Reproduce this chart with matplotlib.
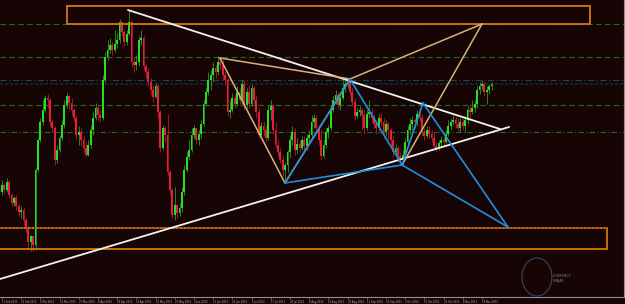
import matplotlib
matplotlib.use("Agg")
import matplotlib.pyplot as plt
from matplotlib.patches import Rectangle, Ellipse
import numpy as np

BG = "#170506"

open0 = 144.8
close = [145.5,145.0,145.8,144.5,143.7,144.2,143.4,142.8,143.0,142.0,
         141.2,139.8,140.4,139.5,147.0,150.0,151.8,153.0,154.2,154.0,
         151.8,151.2,148.0,149.0,150.2,151.5,153.5,154.4,153.7,153.0,
         152.2,150.5,150.8,150.0,149.2,148.5,149.5,151.0,152.2,153.2,
         152.5,152.2,156.0,158.3,159.0,159.5,159.0,159.6,160.0,161.8,
         160.8,159.8,160.6,161.8,157.8,157.5,157.8,160.0,160.2,157.4,
         156.8,155.8,155.0,154.3,155.4,152.8,149.2,151.2,150.5,146.8,
         145.0,142.5,143.5,142.7,143.2,144.8,147.0,148.3,149.0,150.5,
         151.2,150.0,150.6,151.6,153.6,154.8,156.0,156.5,157.2,156.8,
         157.8,157.5,156.5,156.0,152.8,153.0,154.2,153.6,154.8,154.0,
         155.6,153.5,154.8,153.6,155.2,154.0,152.8,150.5,151.4,151.0,
         150.2,153.0,153.4,151.0,149.5,148.8,148.0,147.0,147.5,148.8,
         150.0,150.8,149.0,149.6,149.2,150.0,149.4,150.2,150.5,151.8,
         152.2,151.2,150.0,148.4,149.5,150.8,151.2,153.0,154.0,154.5,
         153.5,154.2,155.2,155.6,155.8,154.8,153.8,152.4,152.8,153.0,
         152.5,151.2,152.6,152.8,152.2,151.6,151.2,152.2,151.8,150.8,
         151.6,151.0,150.0,148.8,149.2,148.4,148.0,148.5,149.8,151.0,
         151.6,152.0,151.8,152.6,152.2,150.8,150.4,151.0,150.6,150.2,
         149.4,149.2,149.7,150.0,149.8,150.6,151.4,151.8,152.0,151.6,
         151.2,151.8,151.4,152.0,153.0,152.8,153.2,153.6,155.0,155.4,
         155.6,154.8,155.0,155.4,155.6]
high = [146.0,145.7,146.2,146.0,144.7,144.4,144.5,143.6,143.4,143.2,
        142.2,141.4,140.5,140.4,147.2,150.2,152.2,154.0,154.5,154.6,
        154.2,152.0,151.4,149.5,150.5,152.0,154.0,154.7,154.5,154.2,
        153.2,152.5,151.4,151.2,150.4,149.8,150.0,151.5,152.8,153.7,
        153.6,153.0,156.5,158.8,160.0,160.2,159.8,161.0,160.7,162.1,
        161.8,161.0,161.0,163.0,162.0,158.2,158.5,160.4,161.0,160.4,
        157.6,157.2,156.2,155.5,155.7,155.6,153.0,151.5,151.4,152.6,
        147.0,145.2,145.3,143.5,143.7,145.3,147.5,148.8,150.0,151.2,
        151.5,151.2,151.0,152.0,154.0,155.2,156.8,157.0,157.8,157.5,
        158.4,158.2,158.0,156.8,156.2,154.0,154.7,154.6,155.4,155.2,
        156.0,156.0,155.2,155.5,155.6,155.4,154.5,153.2,151.8,151.8,
        151.5,153.5,154.0,153.6,151.8,150.0,149.2,148.4,147.8,149.0,
        150.5,151.4,151.2,150.2,150.0,150.4,150.4,150.6,151.0,152.5,
        152.6,152.5,151.5,151.0,150.0,151.2,151.5,153.5,154.4,155.0,
        154.8,154.6,156.0,156.0,156.2,156.3,155.2,154.2,153.2,153.4,
        153.2,153.0,153.0,154.0,153.2,152.6,152.0,152.6,152.7,152.2,
        152.0,151.8,151.2,150.4,149.6,149.4,148.8,149.0,150.2,151.4,
        152.2,152.4,152.2,153.0,153.2,152.6,151.2,151.4,151.4,151.0,
        150.8,149.8,150.0,150.4,150.4,151.0,152.0,152.2,152.5,152.4,
        152.2,152.2,152.2,152.4,153.4,153.6,154.0,154.0,155.4,155.8,
        156.0,155.8,155.4,155.6,155.8]
low = [144.5,144.7,144.8,144.2,143.4,143.4,143.0,142.4,142.2,141.5,
       140.8,139.0,138.9,138.9,139.0,146.8,149.8,151.5,152.8,153.2,
       151.4,150.8,147.5,147.7,148.8,150.0,151.2,153.2,153.0,152.5,
       151.8,150.0,149.5,149.4,148.8,148.3,148.4,149.2,150.5,152.0,
       152.0,151.8,152.0,155.8,158.0,158.7,158.5,158.8,159.2,159.7,
       160.4,159.4,159.5,160.5,157.3,156.8,157.0,157.4,159.5,157.0,
       156.2,155.4,154.5,153.8,154.2,152.2,148.8,149.0,149.8,146.4,
       144.5,142.2,142.0,142.2,142.4,142.8,144.5,146.8,148.0,148.8,
       150.2,149.6,149.5,150.2,151.4,153.4,154.5,155.0,155.8,156.2,
       156.5,157.0,156.0,155.5,152.4,152.2,152.8,153.2,153.4,153.6,
       153.6,153.0,153.2,153.2,153.4,153.6,152.2,150.2,150.2,150.4,
       149.8,150.0,152.0,150.6,149.2,148.4,147.7,146.4,145.7,146.8,
       148.2,149.5,148.5,148.6,148.8,149.0,149.0,149.0,149.8,150.2,
       151.2,150.9,149.5,148.0,148.2,149.2,150.2,151.0,152.8,153.6,
       153.2,153.0,154.0,154.8,155.2,154.5,153.4,152.0,152.2,152.4,
       151.0,150.6,151.0,152.2,151.8,151.2,150.6,151.0,151.4,150.2,
       150.4,150.0,149.4,148.4,148.5,147.8,147.6,147.4,148.2,149.5,
       150.6,151.0,151.2,151.4,151.8,150.4,150.0,150.2,150.2,149.8,
       149.0,148.8,149.0,149.4,149.4,149.6,150.4,151.0,151.5,151.2,
       150.9,150.8,151.0,150.8,151.6,152.2,152.6,152.8,153.2,154.6,
       155.0,154.4,153.6,154.6,155.0]

# horizontal levels
level_green_dashed = [161.6, 158.3, 153.5]
level_green_dashdot = [150.8]
level_teal = 156.0
level_navy = 155.6

# zones (bar index, price)
zone_top = (27.1, 245.0, 161.6, 163.4)
zone_bottom = (-5.0, 252.1, 139.1, 141.2)

# trendline / pattern pivots (bar index, price)
white_lines = [((52.5, 163.0), (207.5, 151.1)),
               ((-0.83, 136.1), (211.3, 151.3))]
pA = (90.8, 158.2)
pB = (145.0, 156.1)
pC = (117.9, 145.7)
pD = (200.0, 161.6)
pE = (166.7, 147.5)
pF = (175.4, 153.7)
pG = (210.8, 141.3)
tan_lines = [(pA, pB), (pA, pC), (pB, pD), (pC, pB), (pE, pD)]
blue_lines = [(pC, pB), (pB, pE), (pE, pF), (pF, pG), (pE, pG), (pC, pE)]

tick_idx = list(range(0, 201, 8))
tick_labels = ["11 Feb 2013", "21 Feb 2013", "5 Mar 2013", "15 Mar 2013", "27 Mar 2013",
               "8 Apr 2013", "18 Apr 2013", "30 Apr 2013", "10 May 2013", "22 May 2013",
               "3 Jun 2013", "13 Jun 2013", "25 Jun 2013", "5 Jul 2013", "17 Jul 2013",
               "29 Jul 2013", "8 Aug 2013", "20 Aug 2013", "30 Aug 2013", "11 Sep 2013",
               "23 Sep 2013", "3 Oct 2013", "15 Oct 2013", "25 Oct 2013", "6 Nov 2013",
               "18 Nov 2013"]

fig = plt.figure(figsize=(6.25, 3.04), dpi=100, facecolor=BG)
ax = fig.add_axes([0, 7 / 304, 624 / 625, 297 / 304])
ax.set_facecolor(BG)
ax.set_xlim(-0.833, 259.17)
ax.set_ylim(134.3, 164.0)

for lv in level_green_dashed:
    ax.axhline(lv, color="#1f6a1f", lw=0.8, ls=(0, (5, 3)), zorder=1)
for lv in level_green_dashdot:
    ax.axhline(lv, color="#1f6a1f", lw=0.8, ls=(0, (5, 2, 1, 2)), zorder=1)
ax.axhline(level_teal, color="#1d4648", lw=0.9, ls=(0, (5, 2, 1, 2)), zorder=1)
ax.axhline(level_navy, color="#0f2a3c", lw=1.2, ls=(0, (2, 1)), zorder=1)

opens = [open0] + close[:-1]
for i, (o, c, h, l) in enumerate(zip(opens, close, high, low)):
    up = c >= o
    body = "#22e022" if up else "#e3203a"
    wick = "#2a9a2a" if up else "#b81a2c"
    hh = max(h, o, c)
    ll = min(l, o, c)
    ax.vlines(i, ll, hh, color=wick, lw=0.6, zorder=2)
    hgt = max(abs(c - o), 0.12)
    ax.bar(i, hgt, bottom=min(o, c), width=0.75, color=body, lw=0, zorder=3)

for (x0, x1, y0, y1) in [zone_top, zone_bottom]:
    ax.add_patch(Rectangle((x0, y0), x1 - x0, y1 - y0, fill=False,
                           ec="#d4780f", lw=1.3, zorder=4))
ax.plot([zone_bottom[0], zone_bottom[1]], [zone_bottom[3]] * 2,
        color="#8a4812", lw=1.4, ls=(0, (1, 1)), zorder=5)

for p, q in white_lines:
    ax.plot([p[0], q[0]], [p[1], q[1]], color="#f2f2f2", lw=1.3, zorder=6,
            solid_capstyle="round")
for p, q in tan_lines:
    ax.plot([p[0], q[0]], [p[1], q[1]], color="#d8b27a", lw=1.1, zorder=6)
for p, q in blue_lines:
    ax.plot([p[0], q[0]], [p[1], q[1]], color="#1e8fdc", lw=1.2, zorder=7)

# logo
ax.add_patch(Ellipse((222.9, 136.3), 12.5, 3.8, fill=False, ec="#33485a", lw=0.8, zorder=6))
ax.text(229.6, 136.4, "CURRENCY", fontsize=2.4, color="#808080", zorder=7, va="center")
ax.text(229.6, 135.9, "NINJAS", fontsize=2.4, color="#808080", zorder=7, va="center")

for s in ["top", "left"]:
    ax.spines[s].set_visible(False)
for s in ["bottom", "right"]:
    ax.spines[s].set_color("#8a9096")
    ax.spines[s].set_linewidth(0.8)
ax.set_yticks([])
ax.set_xticks(tick_idx)
ax.set_xticklabels(tick_labels, fontsize=1.8, color="#b8b8b8", ha="left")
ax.tick_params(axis="x", length=1.5, width=0.5, color="#8a9096", pad=1)

fig.savefig("out.png", dpi=100, facecolor=BG)
